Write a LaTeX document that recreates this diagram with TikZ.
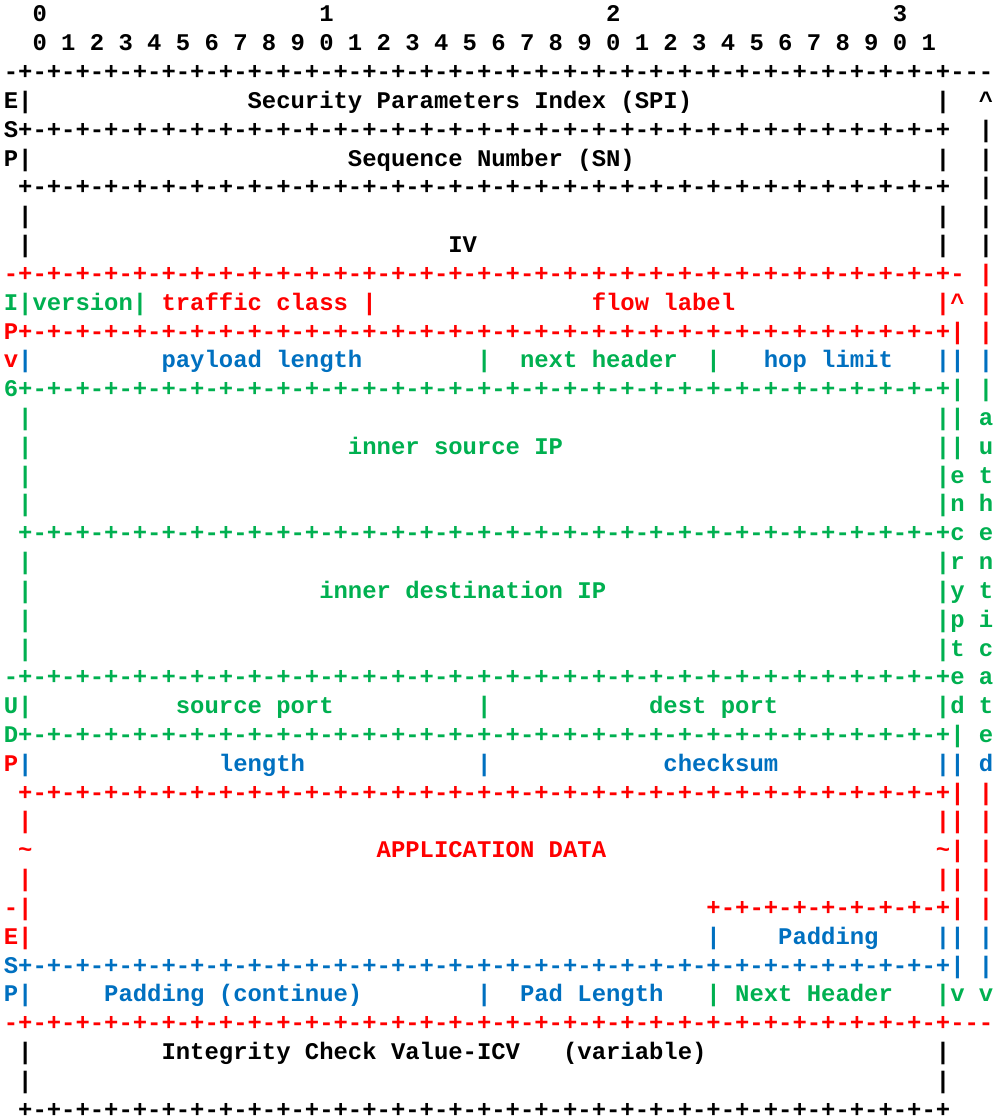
\documentclass[tikz,border=0pt]{standalone}
\usepackage{fontspec}
\setmonofont{Liberation Mono}
\definecolor{espred}{RGB}{255,0,0}
\definecolor{espgreen}{RGB}{0,176,80}
\definecolor{espblue}{RGB}{0,112,192}
% one 32-bit row of "+-" ticks
\newcommand{\bitpair}{+-}
\newcommand{\octet}{\bitpair\bitpair\bitpair\bitpair\bitpair\bitpair\bitpair\bitpair}
\newcommand{\sepbits}{\octet\octet\octet\octet+}
\tikzset{
    asc/.style={anchor=base west, inner sep=0pt, outer sep=0pt,
                font=\ttfamily\bfseries\fontsize{11.95pt}{14pt}\selectfont},
    blk/.style={asc, text=black},
    redt/.style={asc, text=espred},
    grnt/.style={asc, text=espgreen},
    blut/.style={asc, text=espblue},
}

\begin{document}
\begin{tikzpicture}[x=7.17pt, y=-14.41pt]
    \useasboundingbox (-0.267,-0.763) rectangle (69.40,38.03);

    % bit ruler
    \foreach \d in {0,...,3}
        \node[blk] (dec\d) at (2+20*\d,0) {\d};
    \foreach \i in {0,...,31} {
        \pgfmathtruncatemacro{\bitno}{mod(\i,10)}
        \node[blk] (bit\i) at (2+2*\i,1) {\bitno};
    }

    % ESP header
    \node[blk] (top) at (0,2) {-\sepbits-{}-{}-};
    \node[blk] (espE) at (0,3) {E|};
    \node[blk] (spi) at (17,3) {Security Parameters Index (SPI)};
    \node[blk] (spiR) at (65,3) {|};
    \node[blk] (authTop) at (68,3) {\textasciicircum};
    \node[blk] (espS) at (0,4) {S\sepbits};
    \node[blk] (auth4) at (68,4) {|};
    \node[blk] (espP) at (0,5) {P|};
    \node[blk] (sn) at (24,5) {Sequence Number (SN)};
    \node[blk] (snR) at (65,5) {|};
    \node[blk] (auth5) at (68,5) {|};
    \node[blk] (snBot) at (1,6) {\sepbits};
    \node[blk] (auth6) at (68,6) {|};
    \foreach \r in {7,8} {
        \node[blk] (ivL\r) at (1,\r) {|};
        \node[blk] (ivR\r) at (65,\r) {|};
        \node[blk] (auth\r) at (68,\r) {|};
    }
    \node[blk] (iv) at (31,8) {IV};
    \node[redt] (ivBot) at (0,9) {-\sepbits-};
    \node[redt] (auth9) at (68,9) {|};

    % inner IPv6 header
    \node[grnt] (ver) at (0,10) {I|version|};
    \node[redt] (tc) at (11,10) {traffic class};
    \node[redt] (tcR) at (25,10) {|};
    \node[redt] (fl) at (41,10) {flow label};
    \node[redt] (encTop) at (65,10) {|\textasciicircum};
    \node[redt] (auth10) at (68,10) {|};
    \node[redt] (ipP) at (0,11) {P\sepbits|};
    \node[redt] (auth11) at (68,11) {|};
    \node[redt] (ipv) at (0,12) {v};
    \node[blut] (plL) at (1,12) {|};
    \node[blut] (pl) at (11,12) {payload length};
    \node[grnt] (nhL) at (33,12) {|};
    \node[grnt] (nh) at (36,12) {next header};
    \node[grnt] (nhR) at (49,12) {|};
    \node[blut] (hl) at (53,12) {hop limit};
    \node[blut] (hlR) at (65,12) {||};
    \node[blut] (auth12) at (68,12) {|};
    \node[grnt] (ip6) at (0,13) {6\sepbits|};
    \node[grnt] (auth13) at (68,13) {|};
    \foreach \r in {14,15,16,17,19,20,21,22} {
        \node[grnt] (ipL\r) at (1,\r) {|};
        \node[grnt] (ipR\r) at (65,\r) {|};
    }
    \node[grnt] (srcIP) at (24,15) {inner source IP};
    \node[grnt] (srcBot) at (1,18) {\sepbits};
    \node[grnt] (dstIP) at (22,20) {inner destination IP};
    \node[grnt] (dstBot) at (0,23) {-\sepbits};

    % side brackets
    \node[grnt] (encA) at (66,14) {|};
    \node[grnt] (encB) at (66,15) {|};
    \foreach \ch [count=\r from 16] in {e,n,c,r,y,p,t,e,d}
        \node[grnt] (enc\r) at (66,\r) {\ch};
    \foreach \ch [count=\r from 14] in {a,u,t,h,e,n,t,i,c,a,t,e}
        \node[grnt] (auth\r) at (68,\r) {\ch};
    \node[blut] (auth26) at (68,26) {d};

    % UDP header
    \node[grnt] (udpU) at (0,24) {U|};
    \node[grnt] (sp) at (12,24) {source port};
    \node[grnt] (spR) at (33,24) {|};
    \node[grnt] (dp) at (45,24) {dest port};
    \node[grnt] (dpR) at (65,24) {|};
    \node[grnt] (udpD) at (0,25) {D\sepbits|};
    \node[redt] (udpP) at (0,26) {P};
    \node[blut] (lenL) at (1,26) {|};
    \node[blut] (len) at (15,26) {length};
    \node[blut] (lenR) at (33,26) {|};
    \node[blut] (cs) at (46,26) {checksum};
    \node[blut] (csR) at (65,26) {||};
    \node[redt] (udpBot) at (1,27) {\sepbits|};
    \node[redt] (auth27) at (68,27) {|};

    % payload
    \foreach \r in {28,29,30} {
        \node[redt] (appR\r) at (66,\r) {|};
        \node[redt] (auth\r) at (68,\r) {|};
    }
    \foreach \r in {28,30} {
        \node[redt] (appL\r) at (1,\r) {|};
        \node[redt] (appE\r) at (65,\r) {|};
    }
    \node[redt] (appL29) at (1,29) {\textasciitilde};
    \node[redt] (app) at (26,29) {APPLICATION DATA};
    \node[redt] (appE29) at (65,29) {\textasciitilde};

    % ESP trailer
    \node[redt] (espDash) at (0,31) {-|};
    \node[redt] (padTop) at (49,31) {+-+-+-+-+-+-+-+-+|};
    \node[redt] (auth31) at (68,31) {|};
    \node[redt] (espE2) at (0,32) {E|};
    \node[blut] (padL) at (49,32) {|};
    \node[blut] (pad) at (54,32) {Padding};
    \node[blut] (padR) at (65,32) {||};
    \node[blut] (auth32) at (68,32) {|};
    \node[blut] (espS2) at (0,33) {S\sepbits|};
    \node[blut] (auth33) at (68,33) {|};
    \node[blut] (espP2) at (0,34) {P|};
    \node[blut] (padc) at (7,34) {Padding (continue)};
    \node[blut] (padcR) at (33,34) {|};
    \node[blut] (padlen) at (36,34) {Pad Length};
    \node[grnt] (nxL) at (49,34) {|};
    \node[grnt] (nx) at (51,34) {Next Header};
    \node[grnt] (encEnd) at (65,34) {|v};
    \node[grnt] (authEnd) at (68,34) {v};
    \node[redt] (espBot) at (0,35) {-\sepbits-{}-{}-};

    % ICV
    \foreach \r in {36,37} {
        \node[blk] (icvL\r) at (1,\r) {|};
        \node[blk] (icvR\r) at (65,\r) {|};
    }
    \node[blk] (icv) at (11,36) {Integrity Check Value-ICV};
    \node[blk] (icvVar) at (39,36) {(variable)};
    \node[blk, text depth=0pt] (icvBot) at (1,38) {\sepbits};

\end{tikzpicture}
\end{document}
